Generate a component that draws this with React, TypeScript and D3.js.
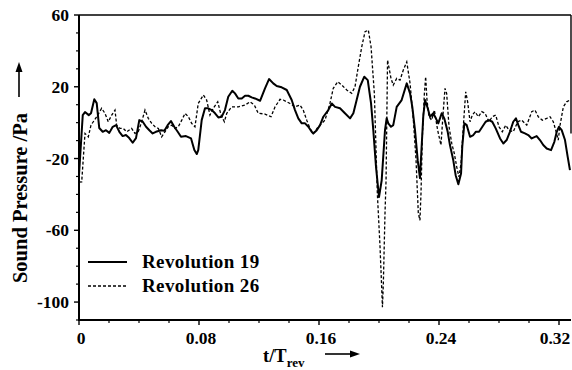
import React from "react";
import * as d3 from "d3";

const rev19T = [0, 0.0025, 0.004, 0.0065, 0.008, 0.0102, 0.0118, 0.0135, 0.0158, 0.018, 0.0202, 0.0225, 0.0247, 0.0269, 0.0291, 0.0313, 0.0335, 0.0358, 0.038, 0.0402, 0.0425, 0.0447, 0.0469, 0.0491, 0.0513, 0.0547, 0.0569, 0.0591, 0.0613, 0.0635, 0.0658, 0.068, 0.0713, 0.0747, 0.0769, 0.0785, 0.0795, 0.0818, 0.084, 0.0862, 0.0885, 0.0907, 0.0929, 0.0951, 0.0973, 0.0995, 0.1022, 0.104, 0.1062, 0.1085, 0.1107, 0.1129, 0.1151, 0.1173, 0.1207, 0.124, 0.1267, 0.1295, 0.1318, 0.1351, 0.1385, 0.1418, 0.144, 0.1462, 0.1485, 0.1507, 0.1529, 0.1551, 0.1562, 0.1585, 0.1607, 0.1629, 0.1662, 0.1685, 0.1707, 0.174, 0.1773, 0.1807, 0.1829, 0.1851, 0.1873, 0.1902, 0.1925, 0.1947, 0.1962, 0.198, 0.2, 0.2018, 0.204, 0.2051, 0.2062, 0.208, 0.2095, 0.2118, 0.2151, 0.2185, 0.2207, 0.2222, 0.224, 0.2258, 0.2273, 0.2295, 0.2307, 0.2325, 0.234, 0.2362, 0.2385, 0.2395, 0.2418, 0.2435, 0.2458, 0.2473, 0.2495, 0.2511, 0.2529, 0.2547, 0.2555, 0.2569, 0.2585, 0.2607, 0.2629, 0.2645, 0.2667, 0.2689, 0.2711, 0.2733, 0.2755, 0.2778, 0.2807, 0.2829, 0.2851, 0.2873, 0.2895, 0.2913, 0.2929, 0.2947, 0.2973, 0.2995, 0.3018, 0.3051, 0.3073, 0.3095, 0.3118, 0.3147, 0.3169, 0.3185, 0.32, 0.3218, 0.324, 0.3258, 0.3273];
const rev19V = [-29, 4.2, 5.9, 4.2, 5.2, 13.0, 10.9, -3.0, -5.1, -4.2, -5.7, -2.3, -1.4, -5.1, -7.5, -6.9, -8.6, -11.2, -8.6, 1.4, 0.5, -2.3, -4.2, -6.0, -5.1, -4.2, -4.5, -1.4, 0.9, -2.3, -5.1, -7.9, -7.5, -8.8, -15.3, -17.5, -15.3, 1.4, 8.0, 8.0, 7.0, 5.2, 2.9, 3.3, 7.0, 14.4, 17.8, 16.3, 13.5, 13.5, 15.0, 15.0, 14.1, 13.5, 12.2, 19.1, 24.3, 21.9, 20.4, 19.7, 18.2, 12.6, 7.0, 2.4, -0.4, -0.4, -2.3, -5.1, -6.0, -4.2, -1.4, 3.3, 7.0, 10.7, 8.8, 8.0, 5.2, 2.4, 5.2, 12.6, 20.0, 25.6, 23.7, 10.7, -4.2, -24.6, -41.5, -32.1, -4.2, 2.4, -0.4, -2.3, -1.4, 8.8, 12.6, 21.9, 16.3, 8.8, -4.2, -20.9, -30.9, 3.3, 12.6, 8.0, 3.3, 5.2, 1.4, -0.4, 5.2, 2.4, -5.1, -12.5, -20.9, -29.3, -34.3, -28.3, -13.5, -0.4, -1.4, -7.9, -6.9, -5.1, -5.1, -2.3, 0.5, 1.4, 0.5, -3.2, -8.8, -11.6, -9.7, -5.1, 0.5, 2.4, -1.4, -5.1, -6.0, -6.9, -8.8, -7.5, -9.7, -12.5, -14.4, -15.3, -10.7, -5.1, -2.3, -4.2, -9.7, -19.1, -26.5];

const rev26T = [0, 0.0018, 0.004, 0.0062, 0.008, 0.0118, 0.0151, 0.0173, 0.0195, 0.0218, 0.024, 0.0251, 0.0273, 0.0295, 0.0318, 0.0351, 0.0373, 0.0395, 0.0418, 0.044, 0.0462, 0.0485, 0.0507, 0.0529, 0.0551, 0.0573, 0.0595, 0.0618, 0.064, 0.0662, 0.0685, 0.0707, 0.0729, 0.0751, 0.0773, 0.0795, 0.0829, 0.0851, 0.0873, 0.0895, 0.0925, 0.0947, 0.0969, 0.0985, 0.1018, 0.1062, 0.1107, 0.114, 0.1169, 0.1195, 0.124, 0.128, 0.1307, 0.134, 0.1362, 0.1407, 0.144, 0.1473, 0.1495, 0.1518, 0.154, 0.1562, 0.1595, 0.164, 0.1673, 0.1695, 0.1725, 0.1751, 0.1785, 0.1818, 0.184, 0.1862, 0.1885, 0.1907, 0.1929, 0.1947, 0.1969, 0.1989, 0.2007, 0.2023, 0.2029, 0.204, 0.2047, 0.2057, 0.208, 0.2095, 0.2118, 0.214, 0.2162, 0.2185, 0.2207, 0.2229, 0.2247, 0.2262, 0.2273, 0.228, 0.2289, 0.2302, 0.2311, 0.232, 0.2333, 0.2351, 0.2369, 0.2391, 0.2413, 0.2429, 0.244, 0.2451, 0.2467, 0.2485, 0.2502, 0.2518, 0.2533, 0.2547, 0.2562, 0.2578, 0.2591, 0.2607, 0.2622, 0.264, 0.2662, 0.2685, 0.2707, 0.2733, 0.2755, 0.2778, 0.28, 0.2822, 0.2845, 0.2867, 0.2895, 0.2925, 0.2951, 0.2985, 0.3018, 0.304, 0.3062, 0.3089, 0.3118, 0.314, 0.3162, 0.3178, 0.3195, 0.3207, 0.3229, 0.3251, 0.3273];
const rev26V = [-33.2, -33.0, -6.0, -7.9, -1.4, 3.3, 8.0, 5.2, 0.5, 4.2, 7.0, -1.4, -3.2, -3.2, -5.1, -3.2, -6.0, -5.1, 0.5, 7.0, 2.4, -0.4, -2.3, -3.2, -7.9, -5.1, -2.3, -1.4, -3.2, -2.3, 1.4, 5.2, 3.3, -0.4, -2.3, 10.7, 15.4, 12.6, 4.2, 8.0, 11.6, 4.2, 0.5, 5.2, 8.8, 8.8, 9.8, 11.6, 9.8, 5.2, 4.8, 3.3, 8.8, 13.0, 12.6, 10.7, 8.8, 9.8, 7.0, 1.4, -3.2, -6.0, -2.3, 1.4, 10.7, 19.1, 22.8, 21.0, 18.2, 16.3, 20.0, 31.2, 42.3, 50.7, 51.6, 42.3, 16.3, -39.5, -69.3, -102.9, -89.5, -50.5, -32.1, 34.9, 24.7, 20.9, 24.7, 23.7, 29.3, 33.9, 21.9, 1.4, -20.9, -50.5, -54.4, -39.3, -7.9, 15.4, 25.6, 12.6, 3.3, 1.4, 7.0, -4.2, -12.5, 7.0, 19.1, 16.3, -2.3, -11.6, -17.2, -24.6, -30.2, -22.7, -2.3, 17.2, 11.6, 0.5, 4.2, 6.1, 3.3, 6.1, 5.2, 0.5, 3.3, 4.2, -2.3, -5.1, -1.4, -4.2, -5.1, 0.5, 1.4, -1.4, 6.1, 7.0, 3.3, 1.4, 2.4, 3.3, 0.5, -4.2, -9.7, -1.4, 8.8, 11.6, 12.6];

const xMajorTicks = [0, 0.08, 0.16, 0.24, 0.32];
const xTickLabels = ["0", "0.08", "0.16", "0.24", "0.32"];
const xMinorTicks = [0.02, 0.04, 0.06, 0.1, 0.12, 0.14, 0.18, 0.2, 0.22, 0.26, 0.28, 0.3];
const yMajorTicks = [60, 20, -20, -60, -100];
const yTickLabels = ["60", "20", "-20", "-60", "-100"];
const yMinorTicks = [50, 40, 30, 10, 0, -10, -30, -40, -50, -70, -80, -90, -110];
const seriesNames = ["Revolution 19", "Revolution 26"];

const W = 572;
const H = 370;
const FONT = "'Liberation Serif', 'Times New Roman', serif";

export default function App() {
  const x = d3.scaleLinear().domain([0, 0.328]).range([79, 571]);
  const y = d3.scaleLinear().domain([-110, 60]).range([320, 15]);
  const mk = (ts: number[], vs: number[]) =>
    d3
      .line<[number, number]>()
      .x((d) => x(d[0]))
      .y((d) => y(d[1]))
      .curve(d3.curveLinear)(ts.map((t, i) => [t, vs[i]] as [number, number])) || "";
  const path19 = mk(rev19T, rev19V);
  const path26 = mk(rev26T, rev26V);
  const x0 = x(0);
  const x1 = x(0.328);
  const yTop = y(60);
  const yBot = y(-110);

  return (
    <svg
      width={W}
      height={H}
      style={{ position: "absolute", left: 0, top: 0, background: "#fff" }}
      fontFamily={FONT}
      fontWeight="bold"
    >
      <rect x={0} y={0} width={W} height={H} fill="#fff" />
      {/* frame */}
      <line x1={x0} x2={x1} y1={yTop} y2={yTop} stroke="#000" strokeWidth={1.6} />
      <line x1={x1} x2={x1} y1={yTop} y2={y(-6)} stroke="#000" strokeWidth={1.4} />
      <line x1={x0} x2={x0} y1={yTop} y2={yBot + 1} stroke="#000" strokeWidth={2} />
      <line x1={x0 - 1} x2={x1} y1={yBot} y2={yBot} stroke="#000" strokeWidth={2} />

      {/* y ticks */}
      {yMajorTicks.map((v, i) => (
        <g key={"ym" + v}>
          <line x1={x0 - 5} x2={x0} y1={y(v)} y2={y(v)} stroke="#000" strokeWidth={1.4} />
          <text x={x0 - 10} y={y(v)} dy="0.35em" textAnchor="end" fontSize={17.5}>
            {yTickLabels[i]}
          </text>
        </g>
      ))}
      {yMinorTicks.map((v) => (
        <line key={"yn" + v} x1={x0 - 3} x2={x0} y1={y(v)} y2={y(v)} stroke="#000" strokeWidth={1.2} />
      ))}

      {/* x ticks */}
      {xMajorTicks.map((v, i) => (
        <g key={"xm" + v}>
          <line x1={x(v)} x2={x(v)} y1={yBot} y2={yBot + 5} stroke="#000" strokeWidth={1.4} />
          <text
            x={i === xMajorTicks.length - 1 ? x(v) - 4 : x(v) + 2}
            y={yBot + 24}
            textAnchor="middle"
            fontSize={17.5}
          >
            {xTickLabels[i]}
          </text>
        </g>
      ))}
      {xMinorTicks.map((v) => (
        <line key={"xn" + v} x1={x(v)} x2={x(v)} y1={yBot} y2={yBot + 3} stroke="#000" strokeWidth={1.2} />
      ))}

      {/* curves */}
      <path d={path26} fill="none" stroke="#000" strokeWidth={1.3} strokeDasharray="3,2" />
      <path d={path19} fill="none" stroke="#000" strokeWidth={2} strokeLinejoin="round" />

      {/* legend */}
      <line x1={88} x2={127} y1={262} y2={262} stroke="#000" strokeWidth={2} />
      <text x={142} y={268} fontSize={19} letterSpacing={0.4}>{seriesNames[0]}</text>
      <line x1={88} x2={127} y1={286} y2={286} stroke="#000" strokeWidth={1.3} strokeDasharray="3,2" />
      <text x={142} y={292} fontSize={19} letterSpacing={0.4}>{seriesNames[1]}</text>

      {/* y axis title */}
      <g transform="translate(27,198) rotate(-90)">
        <text x={0} y={0} textAnchor="middle" fontSize={20.5}>Sound Pressure /Pa</text>
      </g>
      <line x1={19} x2={19} y1={97} y2={68} stroke="#000" strokeWidth={1.6} />
      <path d="M19,62 L15.5,72 L22.5,72 Z" fill="#000" />

      {/* x axis title */}
      <text x={263} y={362} fontSize={18.5}>
        t/T
        <tspan fontSize={13} dy={5}>rev</tspan>
      </text>
      <line x1={325} x2={352} y1={354} y2={354} stroke="#000" strokeWidth={1.6} />
      <path d="M360,354 L350,350.5 L350,357.5 Z" fill="#000" />
    </svg>
  );
}
